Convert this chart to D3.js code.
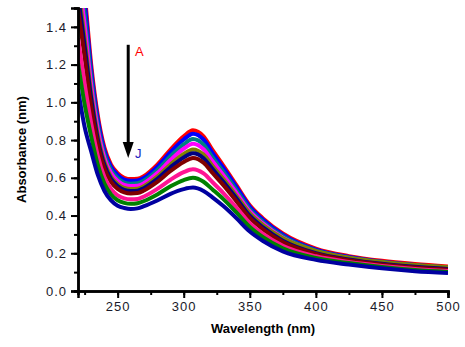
<!DOCTYPE html>
<html>
<head>
<meta charset="utf-8">
<script src="https://cdn.jsdelivr.net/npm/d3@7"></script>
<style>
  body { margin: 0; background: #fff; }
  svg { display: block; }
</style>
</head>
<body>
<div id="chart"></div>
<script>
// wavelength grid (nm)
const wavelengths = [220, 225, 230, 235, 240, 245, 250, 255, 260, 265, 270, 280, 290, 300, 307, 315, 322, 330, 340, 350, 360, 375, 400, 425, 450, 475, 500];

// absorbance of each spectrum
const seriesA = [1.90, 1.58, 1.20, 0.93, 0.76, 0.67, 0.625, 0.60, 0.593, 0.595, 0.61, 0.67, 0.75, 0.82, 0.852, 0.82, 0.745, 0.665, 0.56, 0.455, 0.385, 0.305, 0.225, 0.185, 0.16, 0.143, 0.13];
const seriesB = [1.85, 1.54, 1.17, 0.91, 0.746, 0.659, 0.615, 0.59, 0.584, 0.586, 0.60, 0.659, 0.736, 0.803, 0.834, 0.803, 0.73, 0.652, 0.55, 0.447, 0.378, 0.299, 0.219, 0.18, 0.155, 0.138, 0.124];
const seriesC = [1.77, 1.47, 1.13, 0.88, 0.724, 0.641, 0.598, 0.575, 0.569, 0.571, 0.585, 0.641, 0.714, 0.777, 0.805, 0.775, 0.706, 0.632, 0.533, 0.433, 0.366, 0.29, 0.214, 0.176, 0.152, 0.135, 0.122];
const seriesD = [1.70, 1.41, 1.09, 0.855, 0.705, 0.625, 0.584, 0.562, 0.556, 0.558, 0.572, 0.625, 0.694, 0.754, 0.78, 0.751, 0.686, 0.614, 0.519, 0.422, 0.357, 0.282, 0.209, 0.172, 0.149, 0.132, 0.12];
const seriesE = [1.62, 1.34, 1.045, 0.824, 0.683, 0.606, 0.567, 0.546, 0.54, 0.542, 0.556, 0.606, 0.671, 0.726, 0.75, 0.723, 0.661, 0.593, 0.503, 0.412, 0.35, 0.279, 0.213, 0.177, 0.154, 0.138, 0.126];
const seriesF = [1.57, 1.30, 1.02, 0.804, 0.668, 0.594, 0.556, 0.536, 0.53, 0.532, 0.546, 0.594, 0.656, 0.708, 0.73, 0.704, 0.645, 0.579, 0.49, 0.399, 0.337, 0.267, 0.201, 0.167, 0.144, 0.128, 0.116];
const seriesG = [1.50, 1.24, 0.977, 0.778, 0.649, 0.578, 0.541, 0.523, 0.517, 0.519, 0.533, 0.578, 0.636, 0.684, 0.705, 0.68, 0.624, 0.561, 0.475, 0.387, 0.327, 0.259, 0.196, 0.163, 0.141, 0.125, 0.113];
const seriesH = [1.34, 1.10, 0.887, 0.716, 0.604, 0.541, 0.507, 0.491, 0.486, 0.488, 0.501, 0.541, 0.59, 0.63, 0.645, 0.623, 0.575, 0.519, 0.441, 0.36, 0.303, 0.24, 0.184, 0.154, 0.133, 0.117, 0.106];
const seriesI = [1.21, 0.99, 0.818, 0.669, 0.569, 0.512, 0.481, 0.467, 0.462, 0.465, 0.477, 0.512, 0.555, 0.588, 0.60, 0.579, 0.537, 0.487, 0.415, 0.339, 0.285, 0.226, 0.175, 0.148, 0.127, 0.111, 0.101];
const seriesJ = [1.07, 0.87, 0.74, 0.615, 0.53, 0.48, 0.452, 0.44, 0.435, 0.438, 0.45, 0.48, 0.515, 0.54, 0.548, 0.53, 0.495, 0.45, 0.385, 0.315, 0.265, 0.21, 0.165, 0.14, 0.12, 0.105, 0.095];

const seriesNames = ['A', 'B', 'C', 'D', 'E', 'F', 'G', 'H', 'I', 'J'];
const allSeries = [seriesA, seriesB, seriesC, seriesD, seriesE, seriesF, seriesG, seriesH, seriesI, seriesJ];
const lineColors = ['#ff0000', '#0000ff', '#008080', '#ff00ff', '#808000', '#000080', '#800000', '#ff1493', '#008000', '#0000a0'];

const xTicks = [250, 300, 350, 400, 450, 500];
const yTicks = [0.0, 0.2, 0.4, 0.6, 0.8, 1.0, 1.2, 1.4];

const width = 465, height = 347;
const margin = {top: 8, right: 17, bottom: 56, left: 78};

const svg = d3.select('#chart')
  .append('svg')
  .attr('width', width)
  .attr('height', height)
  .style('font-family', 'Arial, "Liberation Sans", sans-serif');

const x = d3.scaleLinear()
  .domain([220, 500])
  .range([margin.left, width - margin.right]);

const y = d3.scaleLinear()
  .domain([0, 1.5])
  .range([height - margin.bottom, margin.top]);

// clip so the curves stop at the frame
svg.append('clipPath')
  .attr('id', 'plotClip')
  .append('rect')
  .attr('x', margin.left)
  .attr('y', margin.top)
  .attr('width', width - margin.left - margin.right)
  .attr('height', height - margin.top - margin.bottom);

const line = d3.line()
  .x((d, i) => x(wavelengths[i]))
  .y(d => y(d))
  .curve(d3.curveMonotoneX);

svg.append('g')
  .attr('clip-path', 'url(#plotClip)')
  .selectAll('path')
  .data(allSeries)
  .enter()
  .append('path')
  .attr('d', line)
  .attr('fill', 'none')
  .attr('stroke', (d, i) => lineColors[i])
  .attr('stroke-width', 4)
  .attr('stroke-linejoin', 'round');

// minor ticks first, then major ticks with labels
const xMinor = d3.axisBottom(x).tickValues(d3.range(225, 501, 25)).tickSize(4).tickFormat('');
const yMinor = d3.axisLeft(y).tickValues(d3.range(0, 1.51, 0.1)).tickSize(4).tickFormat('');

const gxMinor = svg.append('g').attr('transform', `translate(0,${y(0)})`).call(xMinor);
const gyMinor = svg.append('g').attr('transform', `translate(${x(220)},0)`).call(yMinor);

const xAxis = d3.axisBottom(x).tickValues(xTicks).tickSize(7).tickPadding(4).tickFormat(d3.format('d'));
const yAxis = d3.axisLeft(y).tickValues(yTicks).tickSize(7).tickPadding(4).tickFormat(d3.format('.1f'));

const gx = svg.append('g').attr('transform', `translate(0,${y(0)})`).call(xAxis);
const gy = svg.append('g').attr('transform', `translate(${x(220)},0)`).call(yAxis);

[gxMinor, gyMinor, gx, gy].forEach(g => {
  g.selectAll('.domain').attr('stroke', '#000').attr('stroke-width', 2.5);
  g.selectAll('.tick line').attr('stroke', '#000').attr('stroke-width', 2);
  g.selectAll('.tick text')
    .attr('fill', '#1a1a2a')
    .style('font-size', '13px')
    .style('letter-spacing', '1px');
});

// axis titles
svg.append('text')
  .attr('x', (x(220) + x(500)) / 2)
  .attr('y', 333)
  .attr('text-anchor', 'middle')
  .style('font-size', '13px')
  .style('font-weight', 'bold')
  .text('Wavelength (nm)');

svg.append('text')
  .attr('transform', `translate(26,${(y(0) + y(1.5)) / 2}) rotate(-90)`)
  .attr('text-anchor', 'middle')
  .style('font-size', '13px')
  .style('font-weight', 'bold')
  .text('Absorbance (nm)');

// arrow showing the change from A to J
const arrowX = 258, arrowTop = 1.305, arrowTip = 0.705;
svg.append('line')
  .attr('x1', x(arrowX)).attr('x2', x(arrowX))
  .attr('y1', y(arrowTop)).attr('y2', y(arrowTip) - 14)
  .attr('stroke', '#000')
  .attr('stroke-width', 3);
svg.append('path')
  .attr('d', `M${x(arrowX) - 5.5},${y(arrowTip) - 16} L${x(arrowX) + 5.5},${y(arrowTip) - 16} L${x(arrowX)},${y(arrowTip)} Z`)
  .attr('fill', '#000');

svg.append('text')
  .attr('x', 135)
  .attr('y', 56)
  .attr('fill', lineColors[0])
  .style('font-size', '13px')
  .text(seriesNames[0]);

svg.append('text')
  .attr('x', 135)
  .attr('y', 158)
  .attr('fill', '#2020c0')
  .style('font-size', '13px')
  .text(seriesNames[9]);
</script>
</body>
</html>
